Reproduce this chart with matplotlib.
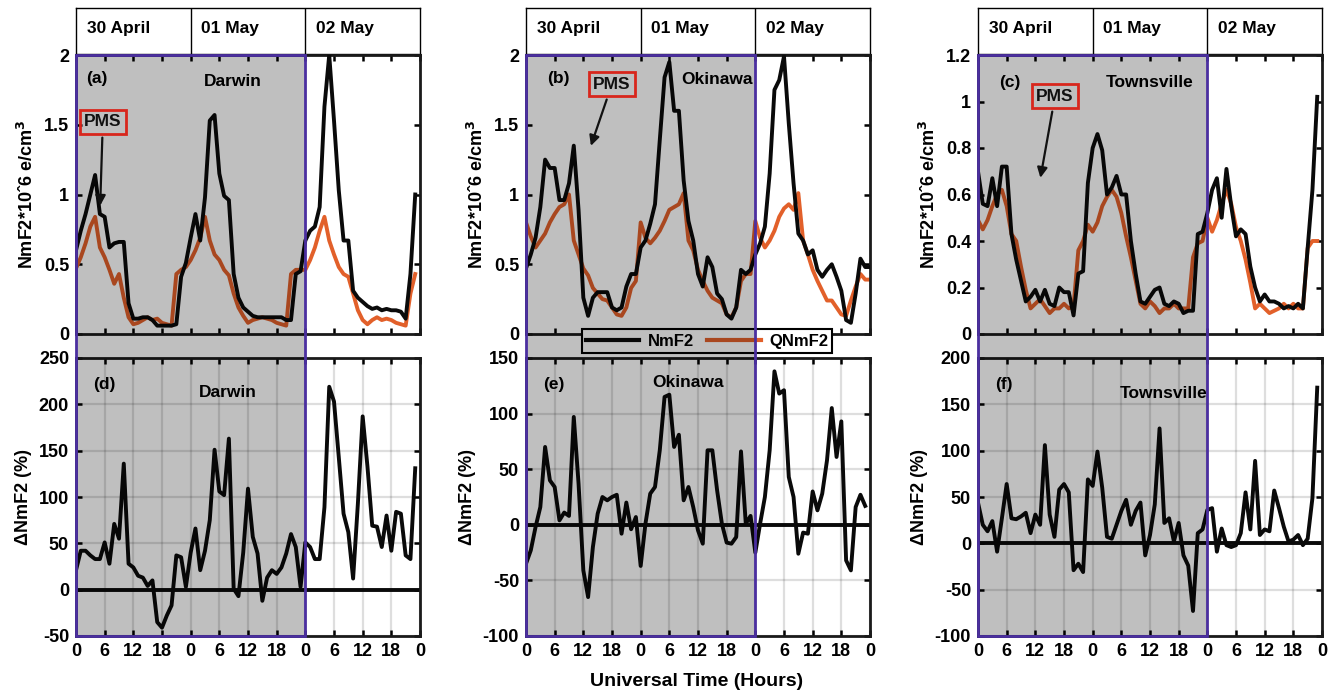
import numpy as np
import matplotlib
matplotlib.use("Agg")
import matplotlib.pyplot as plt
from matplotlib.lines import Line2D
from matplotlib.patches import Rectangle
from matplotlib.text import Annotation

plt.rcParams['font.family'] = ['Liberation Sans', 'DejaVu Sans']
plt.rcParams['font.weight'] = 'bold'
plt.rcParams['axes.labelweight'] = 'bold'
plt.rcParams['axes.unicode_minus'] = False

# ---- data (hourly, UT hours from 30 April 00 UT) ----
days = ["30 April", "01 May", "02 May"]
tick_pos = list(range(0, 73, 6))
tick_lab = ["0", "6", "12", "18"] * 3 + ["0"]

darwin_nmf2 = [0.60, 0.74, 0.86, 1.00, 1.14, 0.86, 0.84, 0.62, 0.65, 0.66, 0.66, 0.22,
               0.11, 0.11, 0.12, 0.12, 0.10, 0.06, 0.06, 0.06, 0.06, 0.07, 0.41, 0.51,
               0.69, 0.86, 0.67, 0.98, 1.53, 1.57, 1.15, 0.99, 0.96, 0.43, 0.26, 0.19,
               0.16, 0.13, 0.12, 0.12, 0.12, 0.12, 0.12, 0.12, 0.10, 0.10, 0.43, 0.45,
               0.67, 0.74, 0.77, 0.91, 1.63, 2.00, 1.53, 1.03, 0.67, 0.67, 0.31, 0.26,
               0.23, 0.20, 0.18, 0.19, 0.17, 0.18, 0.17, 0.17, 0.16, 0.11, 0.43, 1.00]
darwin_qnmf2 = [0.47, 0.55, 0.65, 0.77, 0.84, 0.62, 0.55, 0.46, 0.36, 0.43, 0.26, 0.12,
                0.07, 0.08, 0.10, 0.12, 0.10, 0.11, 0.08, 0.07, 0.06, 0.43, 0.46, 0.48,
                0.53, 0.60, 0.69, 0.84, 0.67, 0.57, 0.53, 0.46, 0.42, 0.29, 0.19, 0.13,
                0.08, 0.10, 0.11, 0.12, 0.11, 0.10, 0.08, 0.07, 0.06, 0.43, 0.46, 0.46,
                0.46, 0.53, 0.62, 0.74, 0.84, 0.67, 0.57, 0.48, 0.43, 0.41, 0.29, 0.17,
                0.10, 0.07, 0.10, 0.12, 0.10, 0.11, 0.10, 0.08, 0.07, 0.06, 0.29, 0.43]
darwin_dnmf2 = [21, 42, 42, 37, 33, 33, 51, 28, 71, 55, 136, 28,
                24, 15, 13, 4, 10, -35, -41, -28, -17, 37, 35, 3,
                40, 66, 21, 42, 75, 151, 106, 102, 163, 1, -7, 40,
                109, 57, 39, -12, 13, 21, 17, 24, 39, 60, 46, 3,
                51, 46, 33, 33, 89, 219, 203, 143, 82, 62, 12, 93,
                187, 133, 69, 68, 46, 80, 42, 84, 82, 37, 33, 131]

okinawa_nmf2 = [0.47, 0.57, 0.69, 0.91, 1.25, 1.19, 1.19, 0.96, 0.96, 1.08, 1.35, 0.89,
                0.26, 0.13, 0.26, 0.30, 0.30, 0.30, 0.19, 0.17, 0.19, 0.34, 0.43, 0.43,
                0.62, 0.67, 0.79, 0.93, 1.39, 1.84, 1.95, 1.60, 1.60, 1.10, 0.81, 0.67,
                0.43, 0.34, 0.55, 0.48, 0.29, 0.25, 0.14, 0.11, 0.19, 0.46, 0.43, 0.46,
                0.57, 0.65, 0.77, 1.15, 1.75, 1.82, 1.99, 1.51, 1.08, 0.72, 0.67, 0.57,
                0.60, 0.46, 0.41, 0.46, 0.50, 0.41, 0.31, 0.10, 0.08, 0.29, 0.54, 0.48, 0.48]
okinawa_qnmf2 = [0.80, 0.70, 0.62, 0.67, 0.72, 0.80, 0.86, 0.91, 0.93, 1.00, 0.67, 0.57,
                 0.47, 0.42, 0.33, 0.29, 0.25, 0.24, 0.19, 0.14, 0.13, 0.19, 0.33, 0.38,
                 0.80, 0.69, 0.65, 0.69, 0.74, 0.81, 0.89, 0.91, 0.93, 1.01, 0.67, 0.60,
                 0.46, 0.38, 0.31, 0.26, 0.24, 0.22, 0.14, 0.12, 0.19, 0.38, 0.43, 0.43,
                 0.81, 0.69, 0.62, 0.67, 0.74, 0.84, 0.90, 0.93, 0.89, 1.01, 0.67, 0.57,
                 0.46, 0.38, 0.31, 0.24, 0.24, 0.19, 0.14, 0.13, 0.24, 0.34, 0.43, 0.39, 0.39]
okinawa_dnmf2 = [-35, -23, -2, 16, 70, 40, 34, 4, 11, 8, 97, 37,
                 -41, -65, -20, 10, 25, 22, 25, 27, -8, 20, -4, 7,
                 -37, 1, 28, 34, 67, 115, 117, 70, 81, 22, 34, 16,
                 -5, -17, 67, 67, 31, 1, -16, -17, -11, 66, 1, 8,
                 -25, 1, 25, 67, 138, 118, 121, 43, 25, -26, -7, -8,
                 30, 13, 28, 58, 105, 61, 93, -32, -41, 16, 27, 17]

townsville_nmf2 = [0.70, 0.56, 0.55, 0.67, 0.55, 0.72, 0.72, 0.43, 0.32, 0.23, 0.14, 0.16,
                   0.19, 0.14, 0.19, 0.13, 0.12, 0.20, 0.18, 0.18, 0.08, 0.26, 0.27, 0.65,
                   0.80, 0.86, 0.79, 0.60, 0.63, 0.68, 0.60, 0.60, 0.40, 0.26, 0.14, 0.13,
                   0.16, 0.19, 0.20, 0.13, 0.12, 0.14, 0.13, 0.09, 0.10, 0.10, 0.43, 0.44,
                   0.52, 0.62, 0.67, 0.50, 0.71, 0.55, 0.42, 0.45, 0.43, 0.29, 0.20, 0.14,
                   0.17, 0.14, 0.14, 0.13, 0.11, 0.12, 0.11, 0.13, 0.11, 0.37, 0.62, 1.02]
townsville_qnmf2 = [0.49, 0.45, 0.49, 0.55, 0.60, 0.62, 0.55, 0.43, 0.40, 0.29, 0.19, 0.11,
                    0.13, 0.15, 0.12, 0.09, 0.11, 0.11, 0.13, 0.11, 0.12, 0.36, 0.40, 0.47,
                    0.44, 0.48, 0.55, 0.59, 0.62, 0.59, 0.52, 0.42, 0.33, 0.23, 0.13, 0.11,
                    0.14, 0.12, 0.09, 0.11, 0.11, 0.13, 0.11, 0.11, 0.11, 0.33, 0.39, 0.40,
                    0.50, 0.44, 0.49, 0.56, 0.62, 0.56, 0.46, 0.40, 0.32, 0.22, 0.11, 0.13,
                    0.11, 0.09, 0.10, 0.11, 0.13, 0.11, 0.13, 0.11, 0.11, 0.37, 0.40, 0.40]
townsville_dnmf2 = [44, 20, 13, 24, -9, 27, 64, 27, 26, 29, 33, 11,
                    31, 20, 106, 31, 7, 58, 64, 55, -29, -22, -31, 69,
                    62, 99, 60, 7, 5, 20, 35, 47, 20, 35, 44, -13,
                    9, 42, 124, 22, 27, 2, 22, -13, -24, -73, 11, 15,
                    36, 38, -9, 16, -2, -4, -2, 11, 55, 15, 89, 9,
                    15, 13, 57, 38, 18, 2, 4, 9, -2, 5, 49, 168]

stations = ["Darwin", "Okinawa", "Townsville"]
nmf2 = [darwin_nmf2, okinawa_nmf2, townsville_nmf2]
qnmf2 = [darwin_qnmf2, okinawa_qnmf2, townsville_qnmf2]
dnmf2 = [darwin_dnmf2, okinawa_dnmf2, townsville_dnmf2]

top_ylim = [(0, 2), (0, 2), (0, 1.2)]
top_ticks = [[0, 0.5, 1, 1.5, 2], [0, 0.5, 1, 1.5, 2], [0, 0.2, 0.4, 0.6, 0.8, 1, 1.2]]
top_ticklab = [["0", "0.5", "1", "1.5", "2"], ["0", "0.5", "1", "1.5", "2"],
               ["0", "0.2", "0.4", "0.6", "0.8", "1", "1.2"]]
bot_ylim = [(-50, 250), (-100, 150), (-100, 200)]
top_letters = ["(a)", "(b)", "(c)"]
bot_letters = ["(d)", "(e)", "(f)"]

# annotation positions (axes fraction)
letter_top_pos = [(0.03, 0.915), (0.06, 0.915), (0.06, 0.90)]
name_top_pos = [(0.456, 0.905), (0.555, 0.912), (0.50, 0.90)]
name_bot_pos = [(0.44, 0.876), (0.47, 0.912), (0.54, 0.872)]
pms_box = [(0.078, 0.76), (0.25, 0.896), (0.224, 0.853)]
pms_tip = [(0.07, 0.45), (0.186, 0.665), (0.18, 0.55)]

BLACK = '#0a0a0a'
ORANGE = '#E2602A'
PURPLE = '#4B2FA0'

W, H = 1335, 694
fig = plt.figure(figsize=(W / 100, H / 100), dpi=100)


def fx(px):
    return px / W


def fy(py):
    return 1 - py / H


lefts = [76, 526, 978]
aw = 344


def style(ax):
    ax.set_xlim(0, 72)
    ax.set_xticks(tick_pos)
    ax.tick_params(direction='in', top=True, right=True, length=4, width=1.8,
                   labelsize=13, pad=5)
    for s in ax.spines.values():
        s.set_linewidth(2)
        s.set_color('#1a1a1a')


for i in range(3):
    L = lefts[i]
    # header with dates
    hx = fig.add_axes([fx(L), fy(54), aw / W, 46 / H])
    hx.set_xlim(0, 72)
    hx.set_ylim(0, 1)
    hx.set_xticks([])
    hx.set_yticks([])
    for s in hx.spines.values():
        s.set_linewidth(1)
    for d, day in enumerate(days):
        if d > 0:
            hx.axvline(24 * d, color='k', lw=1)
        hx.text(24 * d + 2.2, 0.55, day, fontsize=12.5, fontweight='bold', va='center')

    # top panel
    ax = fig.add_axes([fx(L), fy(334), aw / W, 279 / H])
    ax.plot(np.arange(len(nmf2[i])), nmf2[i], color=BLACK, lw=2.8, zorder=3)
    ax.plot(np.arange(len(qnmf2[i])), qnmf2[i], color=ORANGE, lw=2.8, zorder=2)
    style(ax)
    ax.set_xticklabels([])
    ax.set_ylim(*top_ylim[i])
    ax.set_yticks(top_ticks[i])
    ax.set_yticklabels(top_ticklab[i])
    ax.set_ylabel(r'NmF2*10ˆ6 e/cm$^\mathbf{3}$', fontsize=13, labelpad=5)
    ax.text(*letter_top_pos[i], top_letters[i], transform=ax.transAxes,
            fontsize=12.5, fontweight='bold', va='center')
    ax.text(*name_top_pos[i], stations[i], transform=ax.transAxes, fontsize=12.5,
            fontweight='bold', ha='center', va='center')
    # PMS marker sits above the shaded overlay, so it is a figure-level artist
    ann = Annotation('PMS', xy=pms_tip[i], xycoords=ax.transAxes, xytext=pms_box[i],
                     textcoords=ax.transAxes, fontsize=12.5, fontweight='bold',
                     ha='center', va='center', color='#111111',
                     bbox=dict(boxstyle='square,pad=0.25', fc='none', ec='#d8261c', lw=2),
                     arrowprops=dict(arrowstyle='-|>', color='#111111', lw=1.6,
                                     mutation_scale=15))
    ann.set_zorder(20)
    fig.add_artist(ann)

    # bottom panel
    bx = fig.add_axes([fx(L), fy(636), aw / W, 278 / H])
    bx.axhline(0, color=BLACK, lw=2.8, zorder=2)
    bx.plot(np.arange(len(dnmf2[i])), dnmf2[i], color=BLACK, lw=2.8, zorder=3)
    style(bx)
    bx.set_xticklabels(tick_lab)
    bx.set_ylim(*bot_ylim[i])
    bx.set_yticks(np.arange(bot_ylim[i][0], bot_ylim[i][1] + 1, 50))
    bx.grid(True, color='k', alpha=0.13, lw=1.6)
    bx.set_ylabel('ΔNmF2 (%)', fontsize=13, labelpad=5)
    bx.text(0.05, 0.903, bot_letters[i], transform=bx.transAxes, fontsize=12.5,
            fontweight='bold', va='center')
    bx.text(*name_bot_pos[i], stations[i], transform=bx.transAxes, fontsize=12.5,
            fontweight='bold', ha='center', va='center')

    # shaded storm window (0-48 UT) spanning both panels
    x0 = fx(L)
    wsh = (aw / W) * 48 / 72
    y0 = fy(636)
    hsh = fy(55) - fy(636)
    fig.add_artist(Rectangle((x0, y0), wsh, hsh, transform=fig.transFigure,
                             fc='k', alpha=0.25, ec='none', zorder=10))
    fig.add_artist(Rectangle((x0, y0), wsh, hsh, transform=fig.transFigure,
                             fc='none', ec=PURPLE, lw=2, zorder=11))

handles = [Line2D([], [], color=BLACK, lw=3), Line2D([], [], color=ORANGE, lw=3)]
leg = fig.legend(handles, ['NmF2', 'QNmF2'], loc='center',
                 bbox_to_anchor=(fx(707), fy(341)), ncol=2, frameon=True,
                 fancybox=False, edgecolor='k', framealpha=1, fontsize=12,
                 handlelength=3.2, handletextpad=0.5, columnspacing=0.8,
                 borderpad=0.25)
leg.get_frame().set_linewidth(1.5)
leg.set_zorder(5)

fig.text(fx(697), fy(682), 'Universal Time (Hours)', fontsize=14, fontweight='bold',
         ha='center', va='center')

fig.savefig('out.png', dpi=100)
